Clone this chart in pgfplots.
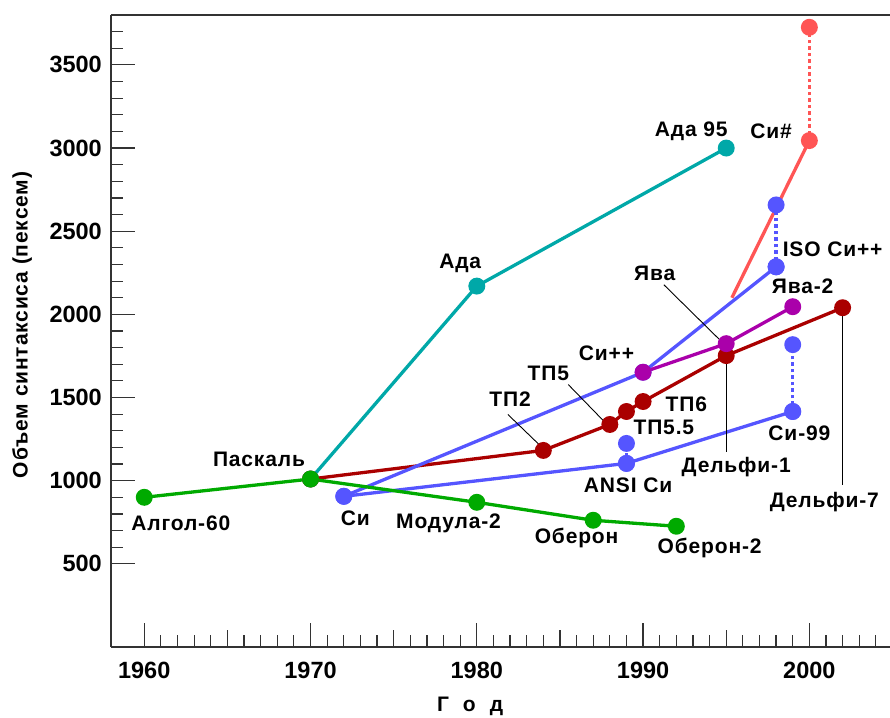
\documentclass[border=0pt]{standalone}
\usepackage{fontspec}
\setmainfont{Liberation Sans}
\newfontfamily\labfont{Liberation Sans}[LetterSpace=4]
\usepackage{pgfplots}
\pgfplotsset{compat=1.18}

\definecolor{cgreen}{HTML}{00AA00}
\definecolor{cteal}{HTML}{00A8A8}
\definecolor{cdred}{HTML}{AA0000}
\definecolor{cpurp}{HTML}{AA00AA}
\definecolor{cblue}{HTML}{5555FF}
\definecolor{cred}{HTML}{FF5555}

\newcommand\ticksfont{\fontsize{23.5}{26}\selectfont\bfseries}
\newcommand\lab{\labfont\fontsize{21}{24}\selectfont\bfseries}

\tikzset{
  ser/.style={line width=3.3pt, mark=*, mark size=6.8pt, mark options={solid}},
  dots/.style={line width=3.3pt, dash pattern=on 3.5pt off 3pt, mark=*, mark size=6.8pt, mark options={solid}},
  txt/.style={font=\lab, inner sep=0pt},
  lead/.style={black, line width=0.9pt, mark=none}
}

\begin{document}
\begin{tikzpicture}
\path[use as bounding box] (-111pt,-70pt) rectangle (779pt,647pt);
\begin{axis}[
  scale only axis, width=779pt, height=632pt,
  xmin=1958, xmax=2004.85, ymin=0, ymax=3800,
  axis x line*=bottom, axis y line*=left,
  axis line style={line width=1.3pt, black!80},
  xtick={1960,1970,...,2000},
  ytick={500,1000,...,3500},
  minor xtick={1961,...,2004},
  minor ytick={600,700,...,3700},
  extra x ticks={1965,1975,1985,1995},
  extra x tick labels={},
  extra x tick style={major tick length=17pt},
  tick align=inside,
  major tick length=24pt, minor tick length=12pt,
  tick style={line width=1.2pt, black!80},
  /pgf/number format/assume math mode=true,
  /pgf/number format/1000 sep={},
  ticklabel style={font=\ticksfont},
  yticklabel style={inner sep=0pt, xshift=-9pt},
  xticklabel style={inner sep=0pt, yshift=-15pt},
  every axis y label/.style={at={(axis description cs:0,0.5)}, xshift=-89pt, yshift=6pt, rotate=90, anchor=center, font=\lab},
  every axis x label/.style={at={(axis description cs:0.461,0)}, yshift=-59pt, anchor=center, font=\lab},
  ylabel={Объем синтаксиса (пексем)},
  xlabel={Г\hspace{14pt}о\hspace{14pt}д},
  clip=false,
]
% top frame line
\addplot[black!80, line width=2.6pt, mark=none] coordinates {(1958,3800) (2004.85,3800)};

% C# (red)
\addplot[cred, line width=3.3pt, mark=none] coordinates {(1995.34,2100) (2000,3045)};
\addplot[cred, dots] coordinates {(2000,3045) (2000,3726)};

% Ada (teal)
\addplot[cteal, ser] coordinates {(1970,1010) (1980,2170) (1995,3000)};

% Turbo Pascal / Delphi (dark red)
\addplot[cdred, ser] coordinates {(1970,1010) (1984,1182) (1988,1338) (1989,1416) (1990,1476) (1995,1752) (2002,2040)};

% C family (blue)
\addplot[cblue, ser] coordinates {(1972,906) (1990,1652) (1998,2286)};
\addplot[cblue, dots] coordinates {(1998,2286) (1998,2658)};
\addplot[cblue, ser] coordinates {(1972,906) (1989,1104) (1999,1416)};
\addplot[cblue, dots] coordinates {(1999,1416) (1999,1818)};
\addplot[cblue, dots] coordinates {(1989,1104) (1989,1224)};

% Java (purple)
\addplot[cpurp, ser] coordinates {(1990,1652) (1995,1824) (1999,2046)};

% Algol / Pascal / Modula / Oberon (green)
\addplot[cgreen, ser] coordinates {(1960,900) (1970,1010) (1980,870) (1987,762) (1992,726)};

% leader lines
\addplot[lead] coordinates {(1981.87,1398) (1983.8,1212)};
\addplot[lead] coordinates {(1985.5,1578) (1987.6,1362)};
\addplot[lead] coordinates {(1991.25,2178) (1994.6,1848)};
\addplot[lead] coordinates {(1995,1752) (1995,1170)};
\addplot[lead] coordinates {(2002,2040) (2002,972)};

% labels
\node[txt] at (axis cs:1962.2,744) {Алгол-60};
\node[txt] at (axis cs:1966.9,1128) {Паскаль};
\node[txt] at (axis cs:1972.7,774) {Си};
\node[txt] at (axis cs:1978.3,744) {Модула-2};
\node[txt] at (axis cs:1986.0,654) {Оберон};
\node[txt] at (axis cs:1994.0,594) {Оберон-2};
\node[txt] at (axis cs:1979.0,2304) {Ада};
\node[txt] at (axis cs:1992.9,3102) {Ада 95};
\node[txt] at (axis cs:1997.7,3102) {Си\#};
\node[txt] at (axis cs:2001.4,2394) {ISO Си++};
\node[txt] at (axis cs:1990.7,2244) {Ява};
\node[txt] at (axis cs:1999.6,2166) {Ява-2};
\node[txt] at (axis cs:1987.8,1764) {Си++};
\node[txt] at (axis cs:1982.0,1488) {ТП2};
\node[txt] at (axis cs:1984.3,1644) {ТП5};
\node[txt] at (axis cs:1991.25,1320) {ТП5.5};
\node[txt] at (axis cs:1992.6,1458) {ТП6};
\node[txt] at (axis cs:1995.6,1080) {Дельфи-1};
\node[txt] at (axis cs:2000.9,870) {Дельфи-7};
\node[txt] at (axis cs:1999.4,1284) {Си-99};
\node[txt] at (axis cs:1989.1,972) {ANSI Си};
\end{axis}
\end{tikzpicture}
\end{document}
